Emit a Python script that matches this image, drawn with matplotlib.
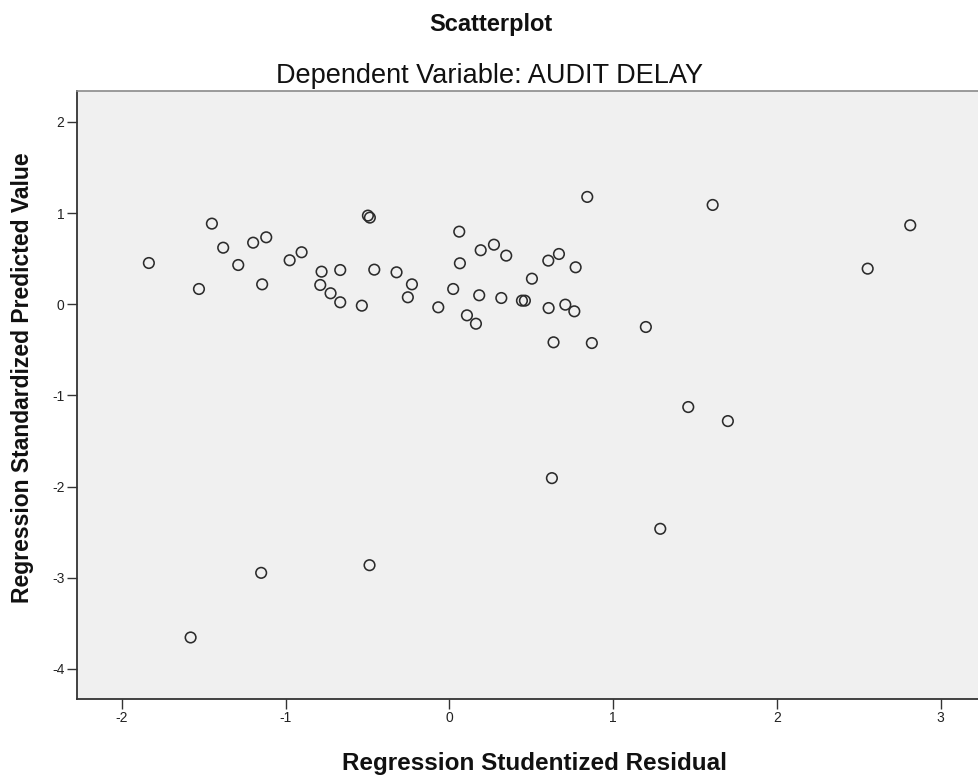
import matplotlib
matplotlib.use("Agg")
import matplotlib.pyplot as plt
from matplotlib import font_manager

# Data: (Regression Studentized Residual, Regression Standardized Predicted Value)
residual = [-1.836, -1.451, -1.530, -1.382, -1.290, -1.199, -1.119, -1.144, -0.976, -0.903,
            -0.781, -0.667, -0.789, -0.726, -0.667, -0.535, -0.498, -0.486, -0.459, -0.323,
            -0.229, -0.254, -0.068, 0.060, 0.064, 0.023, 0.107, 0.162, 0.182, 0.191,
            0.272, 0.347, 0.317, 0.443, 0.461, 0.504, 0.604, 0.669, 0.771, 0.606,
            0.708, 0.763, 0.842, 1.608, 1.200, 0.636, 0.870, 1.288, 1.459, 1.701,
            0.626, 2.815, 2.555, -1.581, -1.150, -0.488]
predicted = [0.453, 0.885, 0.168, 0.621, 0.431, 0.676, 0.735, 0.219, 0.483, 0.571,
             0.358, 0.376, 0.212, 0.121, 0.022, -0.015, 0.973, 0.951, 0.380, 0.351,
             0.219, 0.077, -0.033, 0.797, 0.450, 0.168, -0.121, -0.213, 0.099, 0.593,
             0.654, 0.534, 0.069, 0.040, 0.040, 0.281, 0.479, 0.552, 0.406, -0.041,
             -0.004, -0.077, 1.178, 1.090, -0.249, -0.417, -0.425, -2.463, -1.127, -1.281,
             -1.907, 0.867, 0.391, -3.655, -2.946, -2.862]
x_ticks = [-2, -1, 0, 1, 2, 3]
y_ticks = [2, 1, 0, -1, -2, -3, -4]

title = "Scatterplot"
subtitle = "Dependent Variable: AUDIT DELAY"
xlabel = "Regression Studentized Residual"
ylabel = "Regression Standardized Predicted Value"

names = {f.name for f in font_manager.fontManager.ttflist}
base = "Liberation Sans" if "Liberation Sans" in names else "DejaVu Sans"
narrow = "Liberation Sans Narrow" if "Liberation Sans Narrow" in names else base

W, H = 979, 776
fig = plt.figure(figsize=(W / 100, H / 100), dpi=100)
fig.patch.set_facecolor("white")

left, right, top, bottom = 77, 979, 91, 699
ax = fig.add_axes([left / W, (H - bottom) / H, (right - left) / W, (bottom - top) / H])
ax.set_facecolor("#f0f0f0")

ax.scatter(residual, predicted, s=58, facecolors="none", edgecolors="#2b2b2b",
           linewidths=1.15, zorder=3)

ax.set_xlim(-2.275, 3.235)
ax.set_ylim(-4.33, 2.34)
ax.set_xticks(x_ticks)
ax.set_yticks(y_ticks)
ax.set_xticklabels([str(v) for v in x_ticks])
ax.set_yticklabels([str(v) for v in y_ticks])

for sp in ["left", "bottom"]:
    ax.spines[sp].set_color("#333333")
    ax.spines[sp].set_linewidth(1.3)
ax.spines["top"].set_color("#8a8a8a")
ax.spines["top"].set_linewidth(1.2)
ax.spines["right"].set_visible(False)

ax.tick_params(axis="both", direction="out", length=7, width=1.0, color="#333333",
               labelsize=10, labelcolor="#222222", pad=2)
for lab in ax.get_xticklabels() + ax.get_yticklabels():
    lab.set_family(narrow)

ax.set_xlabel(xlabel, fontsize=17.5, weight="bold", family=base, color="#111111")
ax.xaxis.set_label_coords((535 - left) / (right - left), -(770 - bottom) / (bottom - top))
ax.xaxis.label.set_va("baseline")
ax.set_ylabel(ylabel, fontsize=16.5, weight="bold", family=base, color="#111111")
ax.yaxis.set_label_coords(-(left - 23) / (right - left), (bottom - 378) / (bottom - top))
ax.yaxis.label.set_va("center")

fig.text(491 / W, 1 - 31 / H, title, fontsize=17, weight="bold", family=base,
         ha="center", va="baseline", color="#111111")
fig.text(490 / W, 1 - 83 / H, subtitle, fontsize=19.5, family=base,
         ha="center", va="baseline", color="#111111")

fig.savefig("out.png", dpi=100, facecolor="white")
